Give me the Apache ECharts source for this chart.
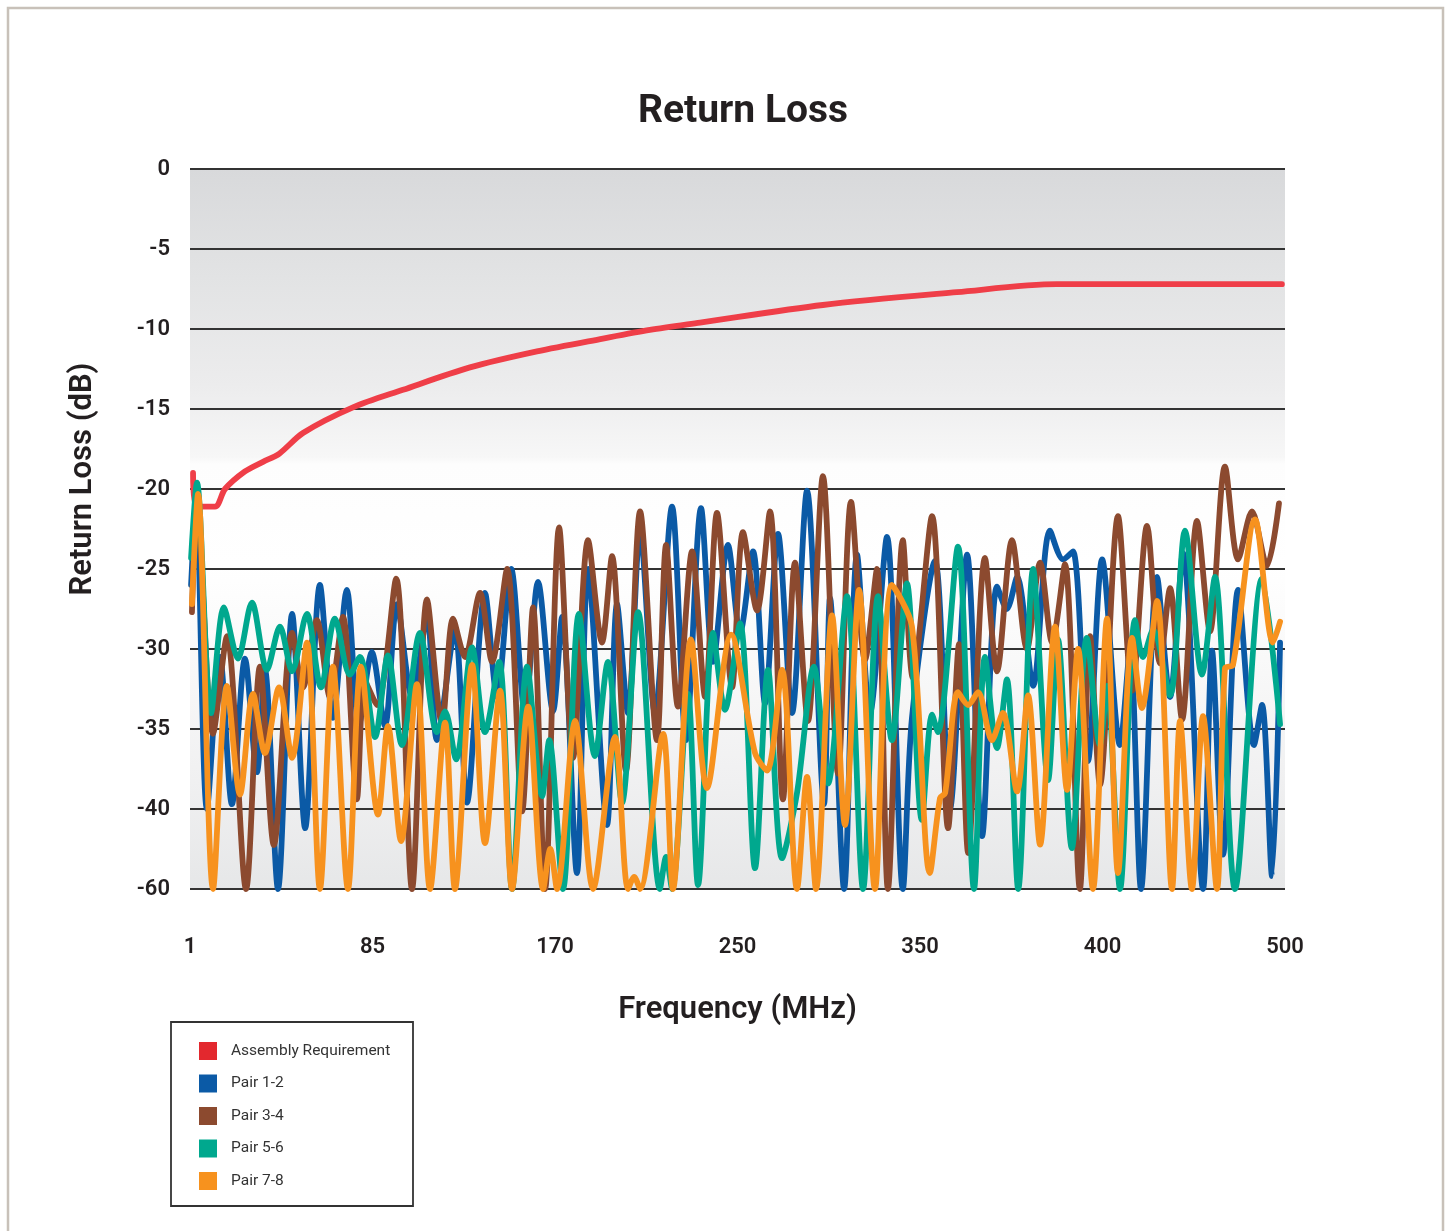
<!DOCTYPE html>
<html>
<head>
<meta charset="utf-8">
<script src="https://cdn.jsdelivr.net/npm/echarts@6/dist/echarts.min.js"></script>
<style>
  html, body { margin: 0; padding: 0; background: #ffffff; }
  #chart { width: 1449px; height: 1231px; }
</style>
</head>
<body>
<div id="chart"></div>
<script>
// ---- Tick labels ----
const freqTicks = [1, 85, 170, 250, 350, 400, 500];          // x-axis labels (MHz), evenly spaced on the chart
const yTickLabels = ['0', '-5', '-10', '-15', '-20', '-25', '-30', '-35', '-40', '-60'];

// ---- Series: [frequency MHz, return loss dB] ----
const requirement = [[2.4,-19.0],[3.8,-21.1],[12.5,-21.1],[17.1,-20.0],[26.3,-18.9],[34.6,-18.3],[42,-17.8],[53,-16.5],[76,-14.9],[99.2,-13.8],[130.4,-12.4],[161.6,-11.4],[191,-10.6],[211.6,-10.06],[233.6,-9.6],[296.8,-8.5],[360.1,-7.7],[387.5,-7.2],[498.3,-7.2]];

const pair12 = [[1.5,-26],[3.8,-20.8],[8.8,-40],[14.8,-30.5],[20.3,-39.7],[26.3,-30.6],[31.8,-37.7],[35.5,-31.3],[41.5,-60],[48,-27.8],[54,-44.8],[60.8,-26],[66.8,-34.3],[73.2,-26.3],[78.8,-34.7],[84.7,-30.2],[90.8,-34.8],[96.4,-27.2],[103.4,-33],[110.4,-28],[115,-35.7],[123.4,-28.8],[129,-39.6],[137.4,-26.5],[143,-33],[149.6,-25],[156,-34],[162.1,-25.8],[169.1,-33.9],[173.1,-28],[179.6,-56],[184.5,-25],[192.8,-44],[197.2,-27.2],[202,-34],[207.3,-22.6],[213.8,-34],[221.3,-21.1],[227.4,-35.7],[234,-21.2],[239.3,-30.8],[245.8,-23.5],[251.4,-29],[258.5,-23.9],[265.1,-33.4],[272.2,-22.8],[279.9,-34],[288.1,-20.1],[297.4,-39.7],[300.7,-26.8],[308.4,-60],[315.5,-24.1],[322.6,-34],[331.9,-23],[340.6,-60],[345.6,-34.3],[354.1,-24.5],[358.2,-40],[362.9,-24.1],[367,-46.8],[371.1,-26.1],[373.8,-27.5],[376.6,-25.5],[381,-32.3],[385.6,-22.6],[389.2,-24.4],[391.9,-23.9],[396,-37],[399.9,-24.4],[409.6,-36],[415.1,-30],[421.1,-60],[429.9,-25.5],[437,-33],[444.1,-24],[455.1,-60],[460,-30.1],[466,-51.4],[474.3,-26.3],[483,-36],[487.4,-33.5],[492.9,-56.8],[497.3,-29.6]];

const pair34 = [[1.9,-27.7],[4.2,-21],[11.6,-35.3],[18,-29.2],[26.8,-60],[33.2,-31.1],[39.6,-49],[48,-29],[53,-32.4],[59.4,-28.2],[65.4,-33],[71.4,-28],[77.8,-39.4],[81.5,-32],[87.1,-33.5],[96,-25.6],[103.4,-60],[110.4,-26.9],[117.4,-34.7],[122.5,-28.1],[128.1,-30.5],[135.1,-26.5],[140.7,-30.8],[147.7,-25],[154.7,-40.6],[159.8,-27.4],[165.4,-60],[171.8,-22.4],[177.9,-36.8],[184.5,-23.2],[190.6,-29.6],[195,-24.2],[201.1,-37.6],[207.3,-21.4],[214.7,-35.7],[218.7,-23.5],[223.9,-33.6],[230.1,-23.9],[235.8,-33],[241,-21.5],[247.6,-32.4],[253,-22.7],[260.7,-27.6],[267.8,-21.4],[274.9,-39.4],[281.5,-24.6],[288.6,-34.5],[296.8,-19.2],[305.1,-37.8],[312.2,-20.8],[319.9,-30.7],[326.4,-25],[332.4,-60],[340.6,-23.2],[346.1,-31.8],[353.3,-21.7],[357.7,-44.8],[360.7,-29.7],[363.2,-51],[367.8,-24.3],[371.1,-31.4],[375.2,-23.2],[379.3,-30],[382.9,-24.6],[386.2,-29.6],[389.7,-24.7],[393.8,-60],[396.6,-29.2],[399.3,-38.5],[408.5,-21.7],[416.2,-32.6],[424.4,-22.3],[431.5,-30.9],[437,-26.2],[443.6,-34.4],[451.8,-22],[458.9,-28.9],[467.1,-18.6],[474.3,-24.4],[481.9,-21.4],[490.1,-24.8],[496.7,-20.9]];

const pair56 = [[1.5,-24.3],[4.2,-19.6],[10.7,-34],[16.6,-27.4],[23.1,-30.6],[29.5,-27.1],[36.4,-31.3],[42.4,-28.6],[48,-31.4],[54.8,-27.8],[61.3,-32.4],[67.7,-28.1],[74.6,-31.6],[79.2,-30.5],[86.2,-35.5],[92.2,-30.4],[98.7,-36],[107.1,-29],[115,-35.2],[118.8,-33.9],[123.9,-36.9],[131.4,-29.9],[137.4,-35.2],[144,-30.8],[150,-60],[157,-31.1],[164,-39.2],[167.3,-35.7],[173.5,-60],[180.5,-27.8],[187.5,-36.7],[193.2,-30.8],[199.4,-39.6],[206.4,-27.7],[216,-60],[218.7,-52],[221.3,-60],[228.3,-32.8],[232.7,-59],[239.3,-29],[244.5,-33.8],[251.4,-28.4],[259.6,-54.8],[266.7,-31.3],[274.4,-52.3],[282.6,-39],[291.9,-31.1],[299.6,-38.4],[310,-26.7],[318.8,-60],[327,-26.7],[334.6,-35.7],[342.8,-25.9],[350.5,-42.7],[353.3,-34.1],[354.9,-35.2],[360.4,-23.6],[364.8,-60],[367.8,-30.5],[371.1,-36.2],[373.8,-31.9],[376.9,-60],[381,-25],[385.1,-38.2],[387.8,-29.4],[391.6,-49.8],[395.7,-29.3],[399.3,-36],[402.5,-32.3],[409.6,-60],[417.8,-28.2],[422.2,-30.5],[427.7,-28.8],[437,-32.9],[445.2,-22.6],[454.5,-31.6],[461.6,-25.5],[472.6,-60],[487.4,-25.6],[497.3,-34.7]];

const pair78 = [[1.9,-27.2],[4.7,-20.3],[11.6,-60],[18,-32.3],[24,-39.1],[30,-32.8],[35.5,-36.5],[42,-32.4],[48,-36.8],[54.8,-29.6],[60.8,-60],[66.8,-31.1],[73.7,-60],[79.7,-31.1],[87.6,-41.4],[92.2,-34.8],[98.3,-48],[105.7,-32.2],[111.8,-60],[118.8,-34.6],[123.4,-60],[131.4,-31],[137.4,-48.5],[144.4,-32.6],[150,-60],[157.5,-33.6],[164.5,-60],[167.8,-50],[170.9,-60],[178.8,-34.5],[186.7,-60],[196.3,-35.5],[202,-60],[204.7,-57],[207.3,-60],[217.4,-35.3],[221.7,-60],[229.6,-29.4],[236.6,-38.7],[247.2,-29.1],[259.6,-36.5],[266.2,-37.6],[274.4,-31.3],[282.6,-60],[288.1,-38],[293,-60],[301.8,-27.9],[308.9,-44],[316.6,-26.3],[325.3,-60],[334.6,-26],[345.6,-28.6],[352.7,-56],[355.5,-39.3],[356.9,-39],[360.4,-32.7],[363.2,-33.5],[365.9,-32.7],[369.7,-35.7],[372.7,-34],[376.6,-38.9],[379.6,-32.9],[382.9,-48.9],[387,-28.6],[390.3,-38.8],[393.3,-30],[397.4,-60],[402.5,-28.1],[408.5,-56],[416.2,-29.3],[421.6,-33.7],[429.9,-27],[438.1,-60],[442.5,-34.5],[449,-60],[455.1,-34.2],[462.7,-60],[467.1,-31.2],[471.5,-31],[483.6,-21.9],[493.4,-29.6],[497.3,-28.3]];

// ---- Axis mappings (the printed chart spaces its labels evenly) ----
function xPos(f) {
  for (let k = 0; k < freqTicks.length - 1; k++) {
    if (f <= freqTicks[k + 1] || k === freqTicks.length - 2) {
      return k + (f - freqTicks[k]) / (freqTicks[k + 1] - freqTicks[k]);
    }
  }
}
// 0..-40 dB is linear; -40..-60 dB is squeezed into one 5-dB band
function yPos(v) { return v >= -40 ? v : -40 + (v + 40) / 4; }
function toXY(arr) { return arr.map(p => [xPos(p[0]), yPos(p[1])]); }

const FONT = 'Roboto, "Noto Sans", sans-serif';
const TXT = '#231f20';

function lineSeries(name, data, color, z) {
  return {
    type: 'line', name: name, data: toXY(data),
    smooth: 0.3, symbol: 'none', showSymbol: false, clip: true, z: z,
    lineStyle: { width: 5.8, color: color, cap: 'round', join: 'round' },
    itemStyle: { color: color },
    emphasis: { disabled: true }
  };
}

const chart = echarts.init(document.getElementById('chart'), null, { renderer: 'canvas' });
chart.setOption({
  animation: false,
  backgroundColor: '#ffffff',
  title: {
    text: 'Return Loss', left: 638, top: 93, padding: 0,
    textStyle: { fontFamily: FONT, fontSize: 39, fontWeight: 'bold', color: TXT }
  },
  grid: {
    left: 190, top: 169, width: 1095, height: 720, show: true, borderWidth: 0,
    backgroundColor: {
      type: 'linear', x: 0, y: 0, x2: 0, y2: 1,
      colorStops: [
        { offset: 0, color: '#d8d9db' },
        { offset: 0.15, color: '#e2e3e4' },
        { offset: 0.3, color: '#ececed' },
        { offset: 0.4, color: '#f7f7f7' },
        { offset: 0.41, color: '#fdfdfd' },
        { offset: 0.55, color: '#ffffff' },
        { offset: 0.7, color: '#f8f8f8' },
        { offset: 0.85, color: '#f0f0f1' },
        { offset: 1, color: '#e6e7e8' }
      ]
    }
  },
  xAxis: {
    type: 'value', min: 0, max: 6, interval: 1,
    axisLine: { show: false }, axisTick: { show: false }, splitLine: { show: false },
    axisLabel: {
      formatter: v => String(freqTicks[Math.round(v)]),
      fontFamily: FONT, fontSize: 22, fontWeight: 600, color: TXT, margin: 47
    },
    name: 'Frequency (MHz)', nameLocation: 'middle', nameGap: 106,
    nameTextStyle: { fontFamily: FONT, fontSize: 31, fontWeight: 600, color: TXT }
  },
  yAxis: {
    type: 'value', min: -45, max: 0, interval: 5,
    axisLine: { show: false }, axisTick: { show: false },
    splitLine: { show: true, lineStyle: { color: '#333333', width: 2 } },
    axisLabel: {
      formatter: v => yTickLabels[Math.round(-v / 5)],
      fontFamily: FONT, fontSize: 22, fontWeight: 600, color: TXT, margin: 20
    }
  },
  legend: {
    orient: 'vertical', left: 199, top: 1042, padding: 0,
    itemWidth: 18, itemHeight: 18, itemGap: 14.5, icon: 'rect',
    selectedMode: false,
    textStyle: { fontFamily: FONT, fontSize: 15.5, color: '#333333', padding: [0, 0, 0, 9] },
    data: [
      { name: 'Assembly Requirement', itemStyle: { color: '#e3282e' } },
      { name: 'Pair 1-2', itemStyle: { color: '#0b5aa6' } },
      { name: 'Pair 3-4', itemStyle: { color: '#8c4a2f' } },
      { name: 'Pair 5-6', itemStyle: { color: '#00a88e' } },
      { name: 'Pair 7-8', itemStyle: { color: '#f7921e' } }
    ]
  },
  graphic: [
    { type: 'polyline', silent: true, z: -1,
      shape: { points: [[8, 1231], [8, 8], [1443, 8], [1443, 1231]] },
      style: { stroke: '#c8c1b9', lineWidth: 2.5, fill: null } },
    { type: 'rect', silent: true,
      shape: { x: 171, y: 1022, width: 242, height: 184 },
      style: { stroke: '#333333', lineWidth: 1.8, fill: null } },
    { type: 'text', silent: true, x: 83, y: 479, rotation: Math.PI / 2,
      style: { text: 'Return Loss (dB)', fontFamily: FONT, fontSize: 31, fontWeight: 600, fill: TXT,
               align: 'center', verticalAlign: 'middle', textAlign: 'center', textVerticalAlign: 'middle' } }
  ],
  series: [
    lineSeries('Assembly Requirement', requirement, '#ef3e48', 2),
    lineSeries('Pair 1-2', pair12, '#0b5aa6', 3),
    lineSeries('Pair 3-4', pair34, '#8c4a2f', 4),
    lineSeries('Pair 5-6', pair56, '#00a88e', 5),
    lineSeries('Pair 7-8', pair78, '#f7921e', 6)
  ]
});
</script>
</body>
</html>
